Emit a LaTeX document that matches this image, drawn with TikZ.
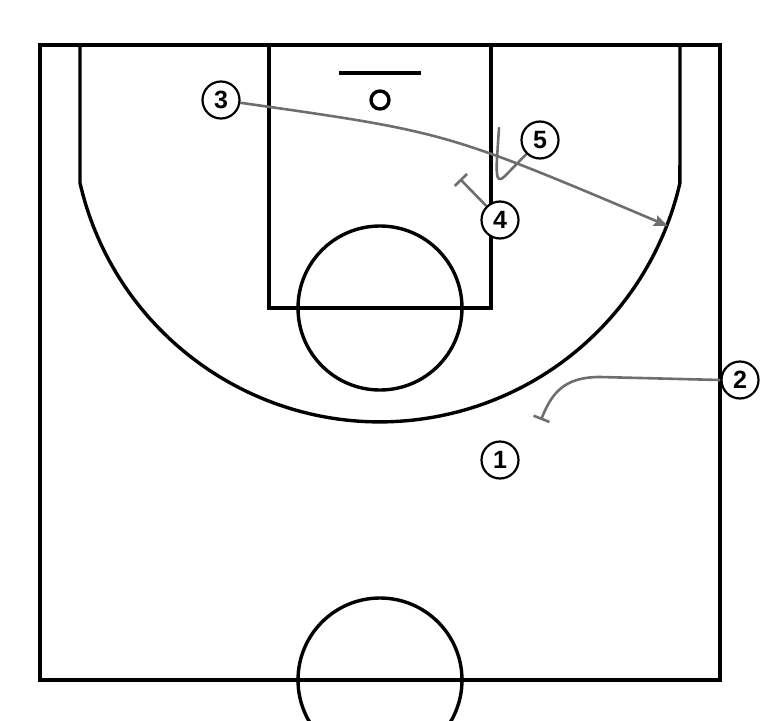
\documentclass[tikz,border=0pt]{standalone}
\usepackage{fontspec}
\setmainfont{Liberation Sans}
\usetikzlibrary{arrows.meta}
\definecolor{movegray}{HTML}{6E6E6E}
\pgfdeclarelayer{courtlayer}
\pgfdeclarelayer{movelayer}
\pgfsetlayers{courtlayer,movelayer,main}
\tikzset{
  court/.style={line width=3.4pt, black},
  player/.style={circle, draw=black, line width=2.2pt, fill=white, minimum size=37pt, inner sep=0pt, font=\fontsize{25}{25}\selectfont\bfseries},
  move/.style={line width=2.6pt, movegray},
  cutarrow/.style={move, -{Stealth[length=14pt,width=11pt,inset=2pt]}},
  screen/.style={move, -{Bar[width=17pt,line width=2.6pt]}}
}
\begin{document}
\begin{tikzpicture}[x=1pt,y=-1pt]
\useasboundingbox (0,0) rectangle (760,720);
\clip (0,0) rectangle (760,720);
% court
\begin{pgfonlayer}{courtlayer}
\draw[court] (40,45) rectangle (720,680);
\draw[court] (80,45) -- (80,183) arc[start angle=167.05, end angle=12.95, radius=307.8] -- (680,45);
\draw[court] (269,45) rectangle (491,308);
\draw[court] (380,308) circle[radius=82];
\draw[court] (339,73) -- (421,73);
\draw[court] (380,100) circle[radius=9];
\draw[court] (380,680) circle[radius=82];
\end{pgfonlayer}
% coordinates
\coordinate (cutend) at (668,226);
\coordinate (s4end) at (460,179);
\coordinate (s2end) at (541,420);
\coordinate (s5top) at (499,128);
% players
\node[player] (p3) at (221,100) {3};
\node[player] (p5) at (540,140) {5};
\node[player] (p4) at (500,220) {4};
\node[player] (p2) at (740,380) {2};
\node[player] (p1) at (500,460) {1};
% movements
\begin{pgfonlayer}{movelayer}
\draw[cutarrow] (p3) .. controls (446,132) .. (cutend);
\draw[screen] (p4) -- (s4end);
\draw[screen] (p2.west) -- (600,377) .. controls (565,377) and (552,392) .. (s2end);
\draw[move, line cap=round] (p5) -- (505,176) .. controls (497,184) and (496,176) .. (497,158) -- (s5top);
\end{pgfonlayer}
\end{tikzpicture}
\end{document}
